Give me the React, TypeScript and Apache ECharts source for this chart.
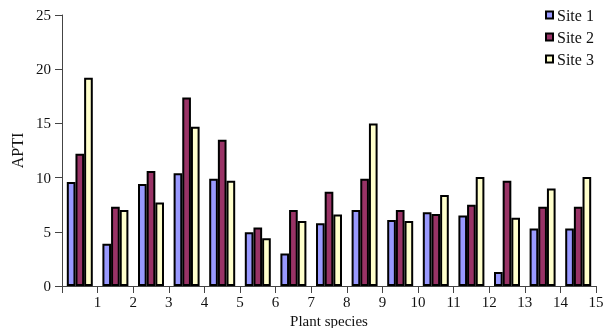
import React, { useEffect, useRef } from "react";
import * as echarts from "echarts";

const species = ["1", "2", "3", "4", "5", "6", "7", "8", "9", "10", "11", "12", "13", "14", "15"];
const site1 = [9.6, 3.9, 9.4, 10.4, 9.9, 4.95, 3.0, 5.8, 7.0, 6.1, 6.8, 6.5, 1.3, 5.3, 5.3];
const site2 = [12.2, 7.3, 10.6, 17.4, 13.5, 5.4, 7.0, 8.7, 9.9, 7.0, 6.65, 7.5, 9.7, 7.3, 7.3];
const site3 = [19.2, 7.0, 7.7, 14.7, 9.7, 4.4, 6.0, 6.6, 15.0, 6.0, 8.4, 10.05, 6.3, 9.0, 10.05];
const seriesNames = ["Site 1", "Site 2", "Site 3"];
const colors = ["#9999ff", "#993366", "#ffffcc"];

const FONT = "Liberation Serif";

export default function App() {
  const ref = useRef<HTMLDivElement>(null);
  useEffect(() => {
    if (!ref.current) return;
    const chart = echarts.init(ref.current, null, { renderer: "svg" });
    const data = [site1, site2, site3];
    chart.setOption({
      animation: false,
      textStyle: { fontFamily: FONT, color: "#111" },
      grid: {
        left: 62,
        right: 9,
        top: 15,
        bottom: 42,
        containLabel: false,
        outerBoundsMode: "none",
      },
      legend: {
        orient: "vertical",
        left: 545,
        top: 6,
        padding: 0,
        itemWidth: 7,
        itemHeight: 7,
        itemGap: 4,
        icon: "rect",
        textStyle: { fontFamily: FONT, fontSize: 16, color: "#111", padding: [0, 0, 0, -1], lineHeight: 18 },
        data: seriesNames,
      },
      xAxis: [
        {
          type: "category",
          data: species,
          show: false,
        },
        {
          type: "value",
          min: 0,
          max: 15,
          interval: 1,
          position: "bottom",
          name: "Plant species",
          nameLocation: "middle",
          nameGap: 24,
          nameTextStyle: { fontFamily: FONT, fontSize: 15, lineHeight: 15, color: "#111" },
          axisLine: { show: true, lineStyle: { color: "#444", width: 1 } },
          axisTick: { show: true, length: 7, lineStyle: { color: "#444" } },
          axisLabel: {
            fontFamily: FONT,
            fontSize: 15,
            color: "#111",
            margin: 8,
            formatter: (v: number) => (v === 0 ? "" : String(v)),
          },
          splitLine: { show: false },
        },
      ],
      yAxis: {
        type: "value",
        min: 0,
        max: 25,
        interval: 5,
        name: "APTI",
        nameLocation: "middle",
        nameGap: 35,
        nameTextStyle: { fontFamily: FONT, fontSize: 16, color: "#111" },
        axisLine: { show: true, lineStyle: { color: "#444", width: 1 } },
        axisTick: { show: true, length: 7, lineStyle: { color: "#444" } },
        axisLabel: { fontFamily: FONT, fontSize: 15, color: "#111", margin: 11 },
        splitLine: { show: false },
      },
      series: data.map((d, i) => ({
        type: "bar",
        name: seriesNames[i],
        xAxisIndex: 0,
        data: d,
        barGap: "0%",
        barCategoryGap: "27%",
        itemStyle: { color: colors[i], borderColor: "#000", borderWidth: 2 },
      })),
    });
    return () => chart.dispose();
  }, []);
  return (
    <div
      ref={ref}
      style={{ position: "fixed", left: 0, top: 0, width: 605, height: 328 }}
    />
  );
}
